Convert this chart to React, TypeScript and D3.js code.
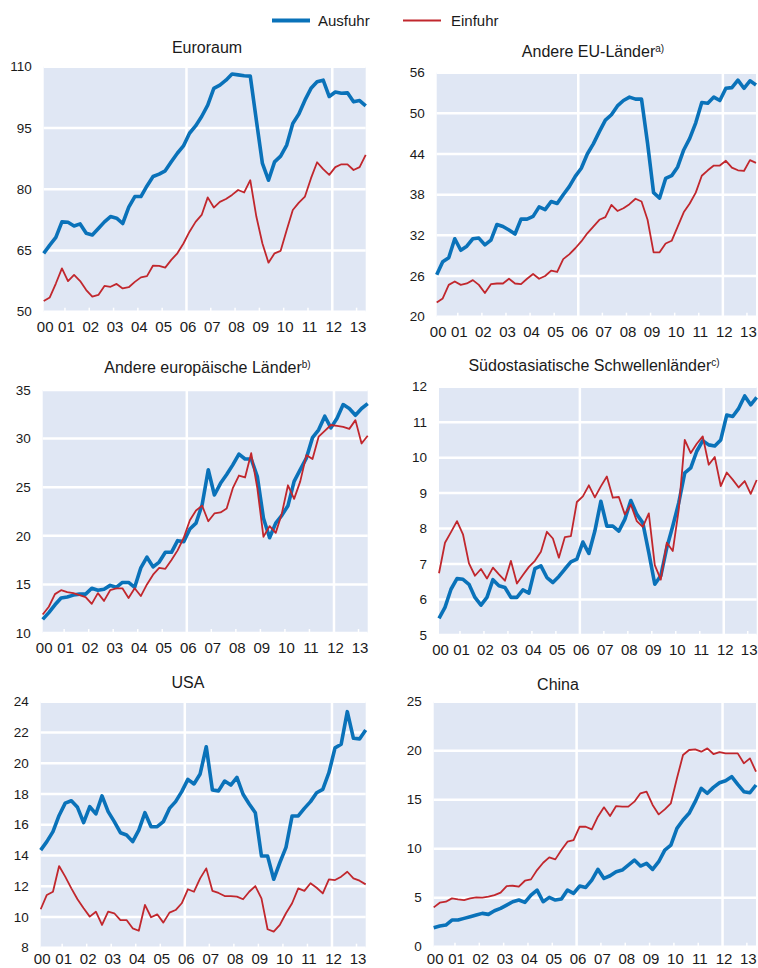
import * as d3 from 'd3';

// Quartalswerte 2000 Q1 – 2013 Q2 (54 Quartale)
const yearLabels = ['00', '01', '02', '03', '04', '05', '06', '07', '08', '09', '10', '11', '12', '13'];
const firstYear = 2000;
const quarterCount = 54;
const yearLines = [2006, 2012];

const euroExport = [64.3, 66.3, 68.2, 72.0, 71.9, 71.0, 71.5, 69.2, 68.8, 70.4, 72.0, 73.3, 72.9, 71.6, 75.6, 78.2, 78.2, 80.8, 83.1, 83.7, 84.5, 86.7, 88.8, 90.6, 93.7, 95.5, 97.8, 100.6, 104.7, 105.5, 106.7, 108.2, 108.0, 107.8, 107.7, 96.9, 86.3, 82.2, 86.7, 88.1, 90.8, 96.1, 98.4, 101.8, 104.7, 106.3, 106.7, 102.7, 103.8, 103.5, 103.6, 101.4, 101.7, 100.4];
const euroImport = [52.6, 53.5, 56.9, 60.6, 57.5, 59.0, 57.5, 55.3, 53.7, 54.1, 56.3, 56.1, 56.8, 55.7, 56.0, 57.3, 58.4, 58.7, 61.3, 61.2, 60.8, 62.7, 64.3, 66.7, 69.6, 72.0, 73.7, 78.0, 75.5, 76.9, 77.6, 78.6, 79.8, 79.2, 82.2, 73.3, 66.7, 62.0, 64.3, 64.9, 70.0, 74.9, 76.7, 78.2, 82.7, 86.6, 84.9, 83.5, 85.4, 86.1, 86.1, 84.7, 85.4, 88.4];

const euExport = [26.2, 28.1, 28.7, 31.5, 29.8, 30.4, 31.5, 31.6, 30.6, 31.3, 33.6, 33.3, 32.8, 32.2, 34.4, 34.4, 34.8, 36.2, 35.8, 37.0, 36.7, 38.0, 39.2, 40.7, 41.9, 44.0, 45.5, 47.3, 49.0, 49.8, 51.1, 51.9, 52.4, 52.1, 52.1, 45.6, 38.3, 37.5, 40.4, 40.8, 42.1, 44.6, 46.3, 48.6, 51.6, 51.5, 52.4, 51.9, 53.7, 53.8, 54.9, 53.7, 54.8, 54.2];
const euImport = [22.1, 22.7, 24.7, 25.2, 24.7, 24.9, 25.4, 24.7, 23.5, 24.8, 24.9, 24.9, 25.6, 24.9, 24.8, 25.6, 26.3, 25.6, 26.0, 26.8, 26.6, 28.5, 29.2, 30.1, 31.1, 32.3, 33.3, 34.3, 34.7, 36.5, 35.6, 36.0, 36.6, 37.4, 37.0, 34.3, 29.5, 29.5, 30.8, 31.2, 33.3, 35.4, 36.7, 38.3, 40.8, 41.6, 42.3, 42.3, 43.0, 42.0, 41.6, 41.5, 43.1, 42.7];

const europeExport = [11.4, 12.1, 12.9, 13.6, 13.7, 13.9, 14.0, 14.0, 14.6, 14.4, 14.5, 14.9, 14.7, 15.2, 15.2, 14.7, 16.7, 17.8, 16.8, 17.3, 18.3, 18.3, 19.5, 19.4, 20.7, 21.3, 23.2, 26.8, 24.2, 25.4, 26.3, 27.3, 28.4, 27.9, 27.9, 26.1, 21.8, 19.8, 21.3, 22.1, 23.1, 25.6, 26.8, 28.0, 30.1, 30.9, 32.3, 31.1, 32.1, 33.5, 33.1, 32.4, 33.1, 33.6];
const europeImport = [11.9, 12.7, 14.0, 14.4, 14.2, 14.1, 13.9, 13.7, 13.0, 14.1, 13.3, 14.4, 14.6, 14.6, 13.6, 14.6, 13.8, 15.0, 16.0, 16.7, 16.6, 17.5, 18.5, 19.8, 21.6, 22.6, 23.1, 21.5, 22.3, 22.4, 22.8, 24.9, 26.2, 26.0, 28.5, 24.9, 19.9, 21.0, 20.3, 22.3, 25.2, 23.8, 25.6, 28.3, 27.9, 30.2, 30.8, 31.4, 31.3, 31.2, 31.0, 31.9, 29.5, 30.3];

const asiaExport = [5.47, 5.78, 6.29, 6.59, 6.57, 6.43, 6.06, 5.84, 6.06, 6.56, 6.39, 6.34, 6.06, 6.06, 6.27, 6.18, 6.87, 6.95, 6.62, 6.48, 6.65, 6.86, 7.06, 7.14, 7.62, 7.30, 7.93, 8.77, 8.07, 8.07, 7.93, 8.26, 8.79, 8.40, 8.16, 7.32, 6.43, 6.67, 7.46, 8.07, 8.73, 9.57, 9.71, 10.18, 10.48, 10.36, 10.33, 10.50, 11.20, 11.16, 11.39, 11.74, 11.49, 11.70];
const asiaImport = [6.74, 7.60, 7.90, 8.21, 7.84, 7.02, 6.67, 6.86, 6.59, 6.90, 6.71, 6.53, 7.09, 6.45, 6.69, 6.92, 7.09, 7.35, 7.91, 7.72, 7.18, 7.76, 7.79, 8.75, 8.91, 9.22, 8.88, 9.19, 9.47, 8.87, 8.89, 8.40, 8.68, 8.21, 8.05, 8.43, 6.97, 6.56, 7.60, 7.37, 8.54, 10.50, 10.13, 10.39, 10.60, 9.80, 10.02, 9.20, 9.58, 9.38, 9.16, 9.34, 8.98, 9.37];

const usaExport = [14.35, 14.9, 15.55, 16.6, 17.4, 17.56, 17.13, 16.13, 17.17, 16.7, 17.87, 16.85, 16.2, 15.48, 15.33, 14.9, 15.65, 16.78, 15.87, 15.87, 16.2, 17.06, 17.5, 18.15, 18.95, 18.65, 19.3, 21.07, 18.26, 18.2, 18.84, 18.58, 19.08, 17.98, 17.35, 16.78, 13.96, 13.96, 12.45, 13.53, 14.53, 16.57, 16.57, 17.06, 17.5, 18.08, 18.3, 19.38, 21.0, 21.23, 23.35, 21.62, 21.58, 22.16];
const usaImport = [10.5, 11.43, 11.64, 13.31, 12.62, 11.86, 11.15, 10.56, 10.02, 10.34, 9.48, 10.34, 10.24, 9.8, 9.8, 9.26, 9.1, 10.78, 9.98, 10.17, 9.63, 10.28, 10.45, 10.89, 11.8, 11.64, 12.51, 13.16, 11.7, 11.56, 11.36, 11.36, 11.32, 11.15, 11.64, 12.01, 11.21, 9.2, 9.04, 9.48, 10.24, 10.89, 11.86, 11.7, 12.19, 11.9, 11.53, 12.45, 12.4, 12.62, 12.94, 12.51, 12.36, 12.12];

const chinaExport = [1.94, 2.11, 2.21, 2.72, 2.72, 2.89, 3.06, 3.23, 3.40, 3.30, 3.67, 3.91, 4.25, 4.59, 4.76, 4.52, 5.27, 5.78, 4.59, 5.03, 4.76, 4.86, 5.78, 5.44, 6.19, 6.05, 6.80, 7.89, 6.97, 7.24, 7.65, 7.82, 8.33, 8.84, 8.23, 8.50, 7.89, 8.67, 9.86, 10.37, 12.07, 12.93, 13.61, 14.80, 16.16, 15.65, 16.26, 16.73, 16.94, 17.35, 16.56, 15.82, 15.71, 16.5];
const chinaImport = [4.01, 4.49, 4.59, 4.93, 4.83, 4.76, 4.93, 5.03, 5.0, 5.10, 5.27, 5.51, 6.19, 6.22, 6.12, 6.73, 6.87, 7.82, 8.57, 9.12, 8.91, 9.86, 10.71, 10.88, 12.24, 12.24, 11.97, 13.27, 14.22, 13.33, 14.35, 14.29, 14.29, 14.80, 15.65, 15.82, 14.46, 13.50, 14.01, 14.63, 17.18, 19.56, 20.07, 20.14, 19.90, 20.24, 19.66, 19.86, 19.73, 19.73, 19.73, 18.71, 19.22, 17.86];

const euroTicks = [50, 65, 80, 95, 110];
const euTicks = [20, 26, 32, 38, 44, 50, 56];
const europeTicks = [10, 15, 20, 25, 30, 35];
const asiaTicks = [5, 6, 7, 8, 9, 10, 11, 12];
const usaTicks = [8, 10, 12, 14, 16, 18, 20, 22, 24];
const chinaTicks = [0, 5, 10, 15, 20, 25];

const BLUE = '#0a72b9';
const RED = '#c1272d';
const BG = '#e0e7f4';
const FONT = '"Liberation Sans", Arial, sans-serif';
const PAGE_H = 968;

// mittlere Quartalsposition als Dezimaljahr
const quarterTime = d3.range(quarterCount).map(i => firstYear + (i + 0.5) / 4);

const panels = [
  { title: 'Euroraum', sup: '', exp: euroExport, imp: euroImport, ticks: euroTicks,
    box: { l: 43.7, t: 66.7, r: 365.7, b: 311.7 }, tx: 207, ty: 53 },
  { title: 'Andere EU-Länder', sup: 'a)', exp: euExport, imp: euImport, ticks: euTicks,
    box: { l: 436.7, t: 72.7, r: 756, b: 316.7 }, tx: 593, ty: 57 },
  { title: 'Andere europäische Länder', sup: 'b)', exp: europeExport, imp: europeImport, ticks: europeTicks,
    box: { l: 42.7, t: 390, r: 367.7, b: 633 }, tx: 207.5, ty: 373 },
  { title: 'Südostasiatische Schwellenländer', sup: 'c)', exp: asiaExport, imp: asiaImport, ticks: asiaTicks,
    box: { l: 439, t: 386.7, r: 756.7, b: 635 }, tx: 594, ty: 371 },
  { title: 'USA', sup: '', exp: usaExport, imp: usaImport, ticks: usaTicks,
    box: { l: 40.7, t: 701.7, r: 365.7, b: 947.7 }, tx: 188, ty: 688 },
  { title: 'China', sup: '', exp: chinaExport, imp: chinaImport, ticks: chinaTicks,
    box: { l: 433.7, t: 701.7, r: 756, b: 946.7 }, tx: 558, ty: 690 },
];

function Panel({ p }) {
  const { l, t, r, b } = p.box;
  const x = d3.scaleLinear()
    .domain([quarterTime[0], quarterTime[quarterTime.length - 1]])
    .range([l, r]);
  const y = d3.scaleLinear()
    .domain([p.ticks[0], p.ticks[p.ticks.length - 1]])
    .range([b, t]);

  const line = d3.line<number>()
    .x((_, i) => x(quarterTime[i]))
    .y(d => y(d));

  const years = yearLabels.map((lab, i) => ({ lab, year: firstYear + i }));
  // erstes Label liegt links vom Plotrand, daher etwas nach innen rücken
  const labelX = (yr: number) => (yr === firstYear ? l + 1.5 : x(yr) + 1.5);
  // unterste Reihe: Beschriftung knapp im Bild halten
  const labelY = Math.min(b + 20, PAGE_H - 4);

  return (
    <g>
      <rect x={l} y={t} width={r - l} height={b - t} fill={BG} />
      {p.ticks.map(v => (
        <line key={'g' + v} x1={l} x2={r} y1={y(v)} y2={y(v)} stroke="#fff" strokeWidth={2.5} />
      ))}
      {yearLines.map(yr => (
        <line key={'v' + yr} x1={x(yr)} x2={x(yr)} y1={t} y2={b} stroke="#fff" strokeWidth={2.5} />
      ))}
      {years.filter(d => x(d.year) > l && !yearLines.includes(d.year)).map(d => (
        <line key={'t' + d.year} x1={x(d.year)} x2={x(d.year)} y1={b - 4} y2={b} stroke="#fff" strokeWidth={1.5} />
      ))}
      <path d={line(p.exp) || ''} fill="none" stroke={BLUE} strokeWidth={3.6} strokeLinejoin="round" />
      <path d={line(p.imp) || ''} fill="none" stroke={RED} strokeWidth={1.8} strokeLinejoin="round" />
      {p.ticks.map(v => (
        <text key={'yl' + v} x={l - 12} y={y(v)} dy="0.35em" textAnchor="end" fontSize={13.5} fill="#1a1a1a">{v}</text>
      ))}
      {years.map(d => (
        <text key={'xl' + d.year} x={labelX(d.year)} y={labelY} textAnchor="middle" fontSize={15} fill="#1a1a1a">{d.lab}</text>
      ))}
      <text x={p.tx} y={p.ty} textAnchor="middle" fontSize={16} fill="#1a1a1a">
        {p.title}
        {p.sup && <tspan fontSize={10} dy={-5}>{p.sup}</tspan>}
      </text>
    </g>
  );
}

export default function App() {
  return (
    <svg width={758} height={PAGE_H} style={{ position: 'absolute', left: 0, top: 0, background: '#fff' }} fontFamily={FONT}>
      {/* Legende */}
      <line x1={272} x2={310} y1={20.5} y2={20.5} stroke={BLUE} strokeWidth={4} />
      <text x={318} y={26} fontSize={15} fill="#1a1a1a">Ausfuhr</text>
      <line x1={403} x2={441} y1={20.5} y2={20.5} stroke={RED} strokeWidth={2} />
      <text x={451} y={26} fontSize={15} fill="#1a1a1a">Einfuhr</text>
      {panels.map(p => <Panel key={p.title} p={p} />)}
    </svg>
  );
}
